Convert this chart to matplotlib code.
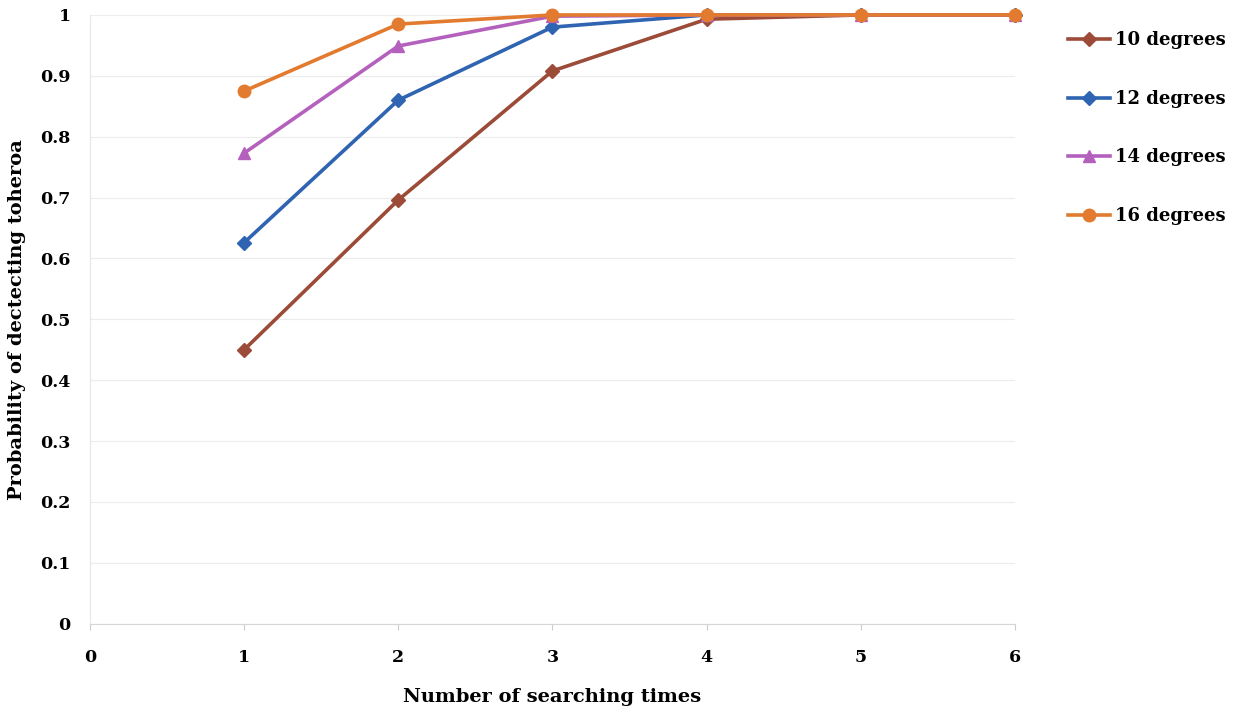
"""Line chart: probability of detecting toheroa vs number of searching times."""
import matplotlib
matplotlib.use("Agg")
import matplotlib.pyplot as plt

searches = [1, 2, 3, 4, 5, 6]
p10 = [0.450, 0.696, 0.908, 0.993, 1.0, 1.0]
p12 = [0.626, 0.860, 0.980, 1.0, 1.0, 1.0]
p14 = [0.773, 0.949, 0.998, 1.0, 1.0, 1.0]
p16 = [0.875, 0.985, 1.0, 1.0, 1.0, 1.0]

SERIES = [
    ("10 degrees", p10, "#9c4b38", "D"),
    ("12 degrees", p12, "#2f64b2", "D"),
    ("14 degrees", p14, "#b461bd", "^"),
    ("16 degrees", p16, "#e27b2f", "o"),
]

plt.rcParams["font.family"] = ["DejaVu Serif"]
plt.rcParams["font.weight"] = "bold"

fig = plt.figure(figsize=(12.33, 7.12), dpi=100)
ax = fig.add_axes([0.073, 0.124, 0.750, 0.855])

for label, vals, color, marker in SERIES:
    ms = 7 if marker == "D" else 9
    ax.plot(searches, vals, color=color, lw=2.6, marker=marker, ms=ms,
            label=label, zorder=3, clip_on=False)

ax.set_xlim(0, 6)
ax.set_ylim(0, 1)
ax.set_xticks(range(0, 7))
ax.set_yticks([i / 10 for i in range(11)])
ax.set_yticklabels(["0"] + [f"0.{i}" for i in range(1, 10)] + ["1"])
ax.tick_params(axis="x", length=4, color="#cccccc", pad=14, labelsize=12.5)
ax.tick_params(axis="y", length=0, pad=14, labelsize=12.5)
ax.grid(axis="y", color="#ececec", lw=0.8, zorder=0)
for s in ("top", "right"):
    ax.spines[s].set_visible(False)
ax.spines["left"].set_color("#e6e6e6")
ax.spines["bottom"].set_color("#d6d6d6")

ax.set_xlabel("Number of searching times", fontsize=14, fontweight="bold", labelpad=16)
ax.set_ylabel("Probability of dectecting toheroa", fontsize=14, fontweight="bold", labelpad=10)

ax.legend(loc="upper left", bbox_to_anchor=(1.04, 1.0), frameon=False,
          fontsize=13, labelspacing=2.25, handlelength=2.3, handletextpad=0.3)

fig.savefig("out.png", dpi=100)
